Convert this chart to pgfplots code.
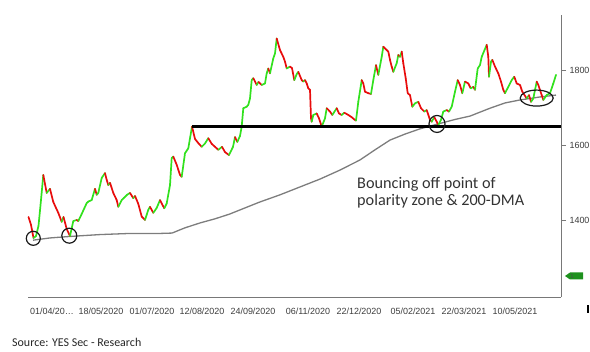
\documentclass[border=0pt]{standalone}
\usepackage{pgfplots}
\pgfplotsset{compat=1.18}
\usepackage{pgfplotstable}
\usepackage{fontspec}
\setmainfont{Liberation Sans}
\newfontfamily\srcfont{Carlito}
\definecolor{upcol}{RGB}{50,225,30}
\definecolor{dncol}{RGB}{232,12,12}
\definecolor{dmacol}{RGB}{125,125,125}
\definecolor{axcol}{RGB}{120,120,120}
\definecolor{labcol}{RGB}{60,60,60}
\definecolor{tagcol}{RGB}{30,145,30}

\pgfplotstableread{
x y
28.5 1410
31 1389
33.5 1354
36 1359
38.5 1386
41 1455
43.3 1522
46.7 1474
50 1485
53.3 1450
56 1434
58.3 1421
61.7 1397
63.5 1410
66.7 1378
70 1359
73.3 1399
76.7 1402
78.3 1399
81.7 1418
86.7 1447
88.3 1451
91.7 1455
95 1485
96.7 1469
98.3 1474
101.7 1514
105 1527
106.7 1509
108.3 1495
110 1501
113.3 1474
116.7 1455
118.3 1437
121.7 1455
124 1461
127 1469
130 1474
133.3 1460
135 1466
138.3 1445
141.7 1411
145 1402
148.3 1429
150 1437
153.3 1421
156.7 1434
160 1455
161.7 1446
164.3 1433
166.7 1446
170 1495
171.7 1567
173.3 1571
176.7 1549
180 1522
181.7 1517
185 1580
188.3 1593
192 1651
195 1618
198.3 1607
201.7 1597
205 1606
208.3 1620
211.7 1605
215 1597
218.3 1589
222 1597
225 1583
229 1575
233 1597
235 1623
237.3 1610
240 1626
241.7 1651
243.3 1700
246.7 1704
248.3 1709
250 1726
251.7 1775
253.3 1780
256.7 1762
258.5 1770
261.7 1762
265 1766
266.7 1793
268.3 1806
270 1793
273.3 1833
275 1846
276.7 1886
280 1855
283.3 1837
285 1824
286.7 1806
290 1811
292 1807
294.3 1775
296.7 1791
298.3 1797
301.7 1775
303.3 1771
305 1775
306.7 1766
308.3 1753
310 1749
311 1673
311.7 1664
313.3 1682
316.7 1686
319 1673
321.7 1651
325 1673
326.7 1700
330 1691
332.3 1682
336.7 1700
339 1686
341.7 1682
344.3 1688
348.3 1682
351.7 1676
354.3 1670
356 1667
358.3 1717
361.7 1775
363.3 1766
365 1744
368.3 1740
371 1738
373.3 1775
376 1815
378.3 1789
381.7 1837
383.3 1864
386.7 1855
388.3 1851
390 1829
391.7 1811
393.3 1797
396.7 1820
398.3 1842
400 1837
401.7 1851
403.3 1820
405.7 1780
407.7 1740
410 1735
412.3 1704
415 1713
418.3 1717
421 1700
424.3 1691
426.7 1695
430 1669
431.7 1664
434.3 1676
436.7 1664
438.3 1655
441 1669
443.3 1691
446.7 1695
449 1691
451.7 1704
455 1744
457.7 1775
460 1762
462.3 1740
465 1771
468.3 1766
470.7 1753
473.3 1757
475 1749
477.7 1806
480 1815
481.7 1837
486.7 1869
488.3 1837
489 1784
491 1824
492.3 1829
495 1811
498.3 1793
501 1771
503.3 1749
505 1740
508.3 1757
511.7 1775
514.3 1784
516.7 1766
520 1762
522.3 1744
526.7 1726
529 1735
531 1717
533.3 1726
536.7 1771
538.3 1762
541.7 1735
543.3 1722
546.7 1735
550 1740
553.3 1766
556 1789
}\price

\pgfplotstableread{
x y
33 1348
50 1354
70 1358
100 1363
130 1366
160 1366
172 1367
185 1381
200 1394
215 1405
230 1418
245 1434
260 1450
280 1469
300 1490
320 1511
340 1535
360 1562
375 1589
390 1615
405 1631
420 1645
438 1658
455 1670
470 1679
490 1700
505 1714
520 1722
540 1730
556 1735
}\dma

\pgfplotstablegetrowsof{\price}
\pgfmathtruncatemacro\nseg{\pgfplotsretval-2}
\gdef\segs{}
\foreach \i in {0,...,\nseg}{%
  \pgfmathtruncatemacro\j{\i+1}%
  \pgfplotstablegetelem{\i}{x}\of\price \let\xa\pgfplotsretval
  \pgfplotstablegetelem{\i}{y}\of\price \let\ya\pgfplotsretval
  \pgfplotstablegetelem{\j}{x}\of\price \let\xb\pgfplotsretval
  \pgfplotstablegetelem{\j}{y}\of\price \let\yb\pgfplotsretval
  \pgfmathtruncatemacro\up{\yb>\ya}%
  \ifnum\up=1 \def\col{upcol}\else\def\col{dncol}\fi
  \xdef\segs{\unexpanded\expandafter{\segs}\noexpand\addplot[seg,draw=\col] coordinates {(\xa,\ya)(\xb,\yb)};}%
}

\begin{document}
\begin{tikzpicture}
\path[use as bounding box] (-28bp,-55bp) rectangle (562bp,297bp);
\begin{axis}[
  at={(0,0)}, anchor=south west,
  scale only axis, width=533bp, height=282bp,
  xmin=28, xmax=561, ymin=1196.5, ymax=1948.6,
  axis x line=bottom, axis y line=right,
  axis line style={-, draw=axcol, line width=0.8bp},
  xtick={52,101,152,202,253,308,359,413,464,515},
  xticklabels={01/04/20…,18/05/2020,01/07/2020,12/08/2020,24/09/2020,06/11/2020,22/12/2020,05/02/2021,22/03/2021,10/05/2021},
  x tick style={draw=none},
  ytick={1400,1600,1800},
  y tick style={draw=axcol, line width=0.8bp},
  tick align=outside, major tick length=5bp,
  ticklabel style={font=\fontsize{9}{10}\selectfont, text=labcol},
  xticklabel style={yshift=-2bp},
  /pgf/number format/1000 sep={},
  /pgf/number format/assume math mode=true,
  clip=false,
  seg/.style={line width=1.7bp, line cap=round, line join=round},
]
\addplot[draw=dmacol, line width=1.3bp] table {\dma};
\segs
\addplot[draw=black, line width=2.2bp] coordinates {(192,1651) (561,1651)};
\draw[black!90, line width=1.2bp] (axis cs:33.3,1353) ellipse [x radius=7bp, y radius=7bp];
\draw[black!90, line width=1.2bp] (axis cs:69.3,1360) ellipse [x radius=7.5bp, y radius=7.5bp];
\draw[black!90, line width=1.2bp] (axis cs:437,1658) ellipse [x radius=8bp, y radius=8.5bp];
\draw[black!90, line width=1.2bp] (axis cs:536.7,1727) ellipse [x radius=16.5bp, y radius=8bp];
\node[anchor=base west, inner sep=0pt, text=black!80,
      font=\srcfont\fontsize{16.3}{18}\selectfont] at (axis cs:357,1486.4) {Bouncing off point of};
\node[anchor=base west, inner sep=0pt, text=black!80,
      font=\srcfont\fontsize{16.3}{18}\selectfont] at (axis cs:357,1440) {polarity zone \& 200-DMA};
\end{axis}
\fill[tagcol] (537bp,21bp) -- (542bp,24.5bp) -- (555bp,24.5bp) -- (555bp,17.5bp) -- (542bp,17.5bp) -- cycle;
\node[inner sep=0pt, font=\fontsize{6}{6}\selectfont, text=black!70] at (544bp,21bp) {1};
\draw[black, line width=1.5bp] (560bp,-8bp) -- (560bp,-16bp);
\node[anchor=west, inner sep=0pt, font=\srcfont\fontsize{12}{13}\selectfont, text=black!85] at (-16bp,-45bp) {Source: YES Sec - Research};
\end{tikzpicture}
\end{document}
